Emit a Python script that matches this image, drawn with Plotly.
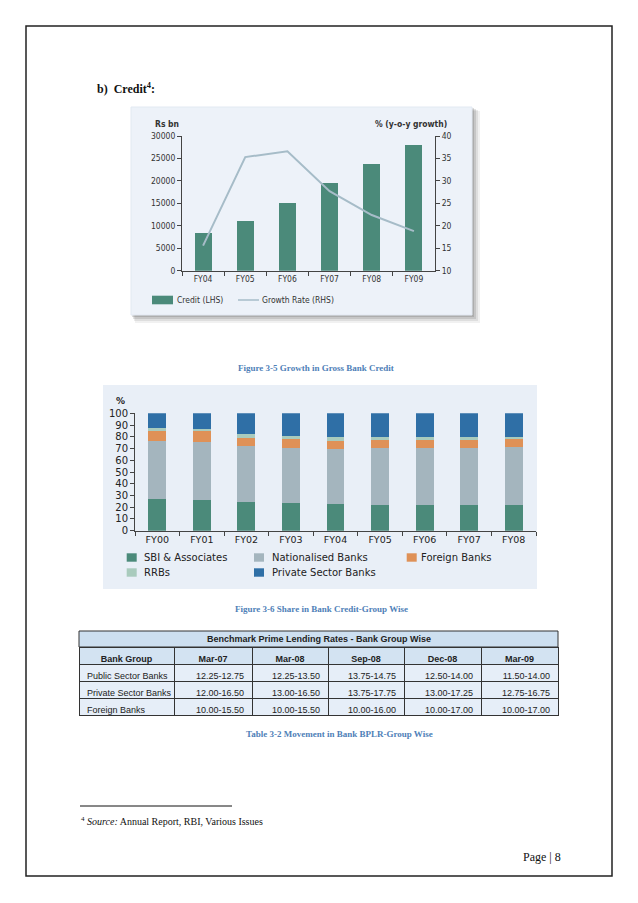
import plotly.graph_objects as go

W, H = 638, 903

# ---------------- data ----------------
fy_credit = ["FY04", "FY05", "FY06", "FY07", "FY08", "FY09"]
credit_rs_bn = [8500, 11100, 15000, 19500, 23800, 27900]
growth_pct = [15.6, 35.3, 36.6, 27.7, 22.4, 18.8]

fy_share = ["FY00", "FY01", "FY02", "FY03", "FY04", "FY05", "FY06", "FY07", "FY08"]
sbi_share = [27.0, 26.0, 24.7, 23.3, 22.7, 22.0, 22.0, 22.0, 21.6]
nationalised_share = [49.0, 49.5, 47.5, 47.0, 46.6, 48.2, 48.2, 48.2, 50.0]
foreign_share = [8.5, 9.5, 7.0, 7.5, 7.4, 7.0, 7.0, 7.0, 6.2]
rrb_share = [3.0, 2.0, 3.0, 3.0, 3.0, 2.8, 2.6, 2.6, 2.3]
private_share = [12.5, 13.0, 17.8, 19.2, 20.3, 20.0, 20.2, 20.2, 19.9]

table_title = "Benchmark Prime Lending Rates - Bank Group Wise"
first_col_header = "Bank Group"
bank_groups = ["Public Sector Banks", "Private Sector Banks", "Foreign Banks"]
bplr_dates = ["Mar-07", "Mar-08", "Sep-08", "Dec-08", "Mar-09"]
bplr_mar07 = ["12.25-12.75", "12.00-16.50", "10.00-15.50"]
bplr_mar08 = ["12.25-13.50", "13.00-16.50", "10.00-15.50"]
bplr_sep08 = ["13.75-14.75", "13.75-17.75", "10.00-16.00"]
bplr_dec08 = ["12.50-14.00", "13.00-17.25", "10.00-17.00"]
bplr_mar09 = ["11.50-14.00", "12.75-16.75", "10.00-17.00"]

# ---------------- helpers ----------------
def px(x):
    return x / W

def py(y):
    return 1 - y / H

NARROW = "Liberation Sans Narrow, DejaVu Sans Condensed, Arial Narrow, sans-serif"
SANS2 = "DejaVu Sans, Verdana, sans-serif"
SERIF = "Liberation Serif, Times New Roman, serif"
TBL = "Liberation Sans, Arial, sans-serif"
CAP_BLUE = "#4f7fb8"

C_TEAL = "#4b8a7a"
C_LINE = "#a6bcc8"
C_NAT = "#a4b5be"
C_FOR = "#df9157"
C_RRB = "#a9cbbd"
C_PRI = "#2f6fa6"

fig = go.Figure()

# ---------------- chart 1 ----------------
fig.add_trace(go.Bar(x=fy_credit, y=credit_rs_bn, xaxis="x", yaxis="y",
                     marker=dict(color=C_TEAL, line=dict(width=0)), name="Credit (LHS)"))
fig.add_trace(go.Scatter(x=fy_credit, y=growth_pct, xaxis="x", yaxis="y2", mode="lines",
                         line=dict(color=C_LINE, width=2), name="Growth Rate (RHS)"))

# ---------------- chart 2 ----------------
for vals, col, nm in [(sbi_share, C_TEAL, "SBI & Associates"),
                      (nationalised_share, C_NAT, "Nationalised Banks"),
                      (foreign_share, C_FOR, "Foreign Banks"),
                      (rrb_share, C_RRB, "RRBs"),
                      (private_share, C_PRI, "Private Sector Banks")]:
    fig.add_trace(go.Bar(x=fy_share, y=vals, xaxis="x2", yaxis="y3", name=nm,
                         marker=dict(color=col, line=dict(width=0))))

# ---------------- table ----------------
NB = "\u00a0"
group_labels = [g.replace(" ", NB) for g in bank_groups]
fig.add_trace(go.Table(
    domain=dict(x=[px(79), px(558)], y=[py(730), py(647)]),
    columnwidth=[95, 78, 76, 76, 77, 77],
    header=dict(values=[first_col_header] + bplr_dates,
                fill_color="#d3e3f2", line=dict(color="#333333", width=1),
                font=dict(family=TBL, size=9, color="#222222", weight="bold"),
                align="center", height=17),
    cells=dict(values=[group_labels, bplr_mar07, bplr_mar08, bplr_sep08, bplr_dec08, bplr_mar09],
               fill_color="#e6eef8", line=dict(color="#333333", width=1),
               font=dict(family=TBL, size=9, color="#222222"),
               align=["left", "right", "right", "right", "right", "right"], height=17),
))

# ---------------- axes ----------------
ax_common = dict(showline=True, linecolor="#444444", linewidth=1, ticks="outside",
                 ticklen=4, tickcolor="#444444", showgrid=False, zeroline=False, automargin=False)

fig.update_layout(
    xaxis=dict(domain=[px(182), px(435)], anchor="y", type="category",
               tickson="boundaries", tickfont=dict(family=NARROW, size=8.5, color="#333333"), **ax_common),
    yaxis=dict(domain=[py(270.7), py(136)], anchor="x", range=[0, 30000], dtick=5000, tickformat="d",
               tickfont=dict(family=NARROW, size=8.5, color="#333333"), **ax_common),
    yaxis2=dict(overlaying="y", anchor="x", side="right", range=[10, 40], dtick=5,
                tickfont=dict(family=NARROW, size=8.5, color="#333333"), **ax_common),
    xaxis2=dict(domain=[px(135), px(536)], anchor="y3", type="category",
                tickson="boundaries", tickfont=dict(family=SANS2, size=9.5, color="#222222"), **ax_common),
    yaxis3=dict(domain=[py(530.7), py(413.3)], anchor="x2", range=[0, 100], dtick=10,
                tickfont=dict(family=SANS2, size=10, color="#222222"), **ax_common),
)

shapes = []
# page border
shapes.append(dict(type="rect", xref="paper", yref="paper", x0=px(26), x1=px(612), y0=py(876), y1=py(26),
                   line=dict(color="#222222", width=1.5), fillcolor="rgba(0,0,0,0)", layer="below"))
# chart 1 panel with shadow
for off, op in [(8, 0.07), (6, 0.10), (4, 0.14), (2, 0.18)]:
    shapes.append(dict(type="rect", xref="paper", yref="paper", x0=px(131 + off / 2), x1=px(472 + off),
                       y0=py(315 + off), y1=py(107 + off / 2), line=dict(width=0),
                       fillcolor="rgba(60,60,60,%.2f)" % op, layer="below"))
shapes.append(dict(type="rect", xref="paper", yref="paper", x0=px(131), x1=px(472), y0=py(315), y1=py(107),
                   line=dict(color="#e2e9f2", width=1), fillcolor="#edf2f9", layer="below"))
# chart 2 panel
shapes.append(dict(type="rect", xref="paper", yref="paper", x0=px(103), x1=px(537), y0=py(589), y1=py(385),
                   line=dict(width=0), fillcolor="#e9eff7", layer="below"))
# table title row
shapes.append(dict(type="rect", xref="paper", yref="paper", x0=px(79), x1=px(558), y0=py(647), y1=py(631),
                   line=dict(color="#333333", width=1), fillcolor="#cddff0", layer="below"))
# chart 1 legend swatches
shapes.append(dict(type="rect", xref="paper", yref="paper", x0=px(152), x1=px(173), y0=py(304.3), y1=py(295.7),
                   line=dict(width=0), fillcolor=C_TEAL))
shapes.append(dict(type="line", xref="paper", yref="paper", x0=px(238), x1=px(259), y0=py(300), y1=py(300),
                   line=dict(color=C_LINE, width=1.5)))
# chart 2 legend swatches
leg2 = [(126.7, 557.5, C_TEAL), (254, 557.5, C_NAT), (406.7, 557.5, C_FOR),
        (126.7, 572.5, C_RRB), (254, 572.5, C_PRI)]
for sx, sy, col in leg2:
    shapes.append(dict(type="rect", xref="paper", yref="paper", x0=px(sx), x1=px(sx + 10),
                       y0=py(sy + 4.2), y1=py(sy - 4.2), line=dict(width=0), fillcolor=col))
# footnote rule
shapes.append(dict(type="line", xref="paper", yref="paper", x0=px(80), x1=px(232), y0=py(806), y1=py(806),
                   line=dict(color="#111111", width=1)))

ann = []
def text(x, y, s, size, family, color="#111111", xanchor="left"):
    ann.append(dict(x=px(x), y=py(y), xref="paper", yref="paper", text=s, showarrow=False,
                    xanchor=xanchor, yanchor="middle", font=dict(family=family, size=size, color=color)))

text(95, 88, "<b>b)  Credit<sup>4</sup>:</b>", 12, SERIF)
text(152.5, 124, "<b>Rs bn</b>", 8.5, NARROW, "#333333")
text(449, 124, "<b>% (y-o-y growth)</b>", 8.5, NARROW, "#333333", "right")
text(175, 300, "Credit (LHS)", 8.5, NARROW, "#333333")
text(260, 300, "Growth Rate (RHS)", 8.5, NARROW, "#333333")
text(316, 368, "<b>Figure 3-5 Growth in Gross Bank Credit</b>", 9, SERIF, CAP_BLUE, "center")
text(114, 401.5, "<b>%</b>", 9, SANS2, "#222222")
leg2_txt = [(142, 557.5, "SBI & Associates"), (270, 557.5, "Nationalised Banks"),
            (419, 557.5, "Foreign Banks"), (142, 572.5, "RRBs"), (270, 572.5, "Private Sector Banks")]
for tx, ty, s in leg2_txt:
    text(tx, ty, s, 10, SANS2, "#222222")
text(321, 609, "<b>Figure 3-6 Share in Bank Credit-Group Wise</b>", 9, SERIF, CAP_BLUE, "center")
text(318.5, 639, "<b>%s</b>" % table_title, 9, TBL, "#222222", "center")
text(339, 734, "<b>Table 3-2 Movement in Bank BPLR-Group Wise</b>", 9, SERIF, CAP_BLUE, "center")
text(79, 821, "<sup>4</sup> <i>Source:</i> Annual Report, RBI, Various Issues", 10, SERIF)
text(563, 857, "Page | 8", 12, SERIF, "#111111", "right")

fig.update_layout(
    width=W, height=H, margin=dict(l=0, r=0, t=0, b=0, pad=0, autoexpand=False),
    paper_bgcolor="white", plot_bgcolor="rgba(0,0,0,0)",
    barmode="stack", bargap=0.6, showlegend=False,
    shapes=shapes, annotations=ann,
)

fig.write_html("out.html", config={"displayModeBar": False},
               post_script="document.body.style.margin='0';document.body.style.overflow='hidden';")
